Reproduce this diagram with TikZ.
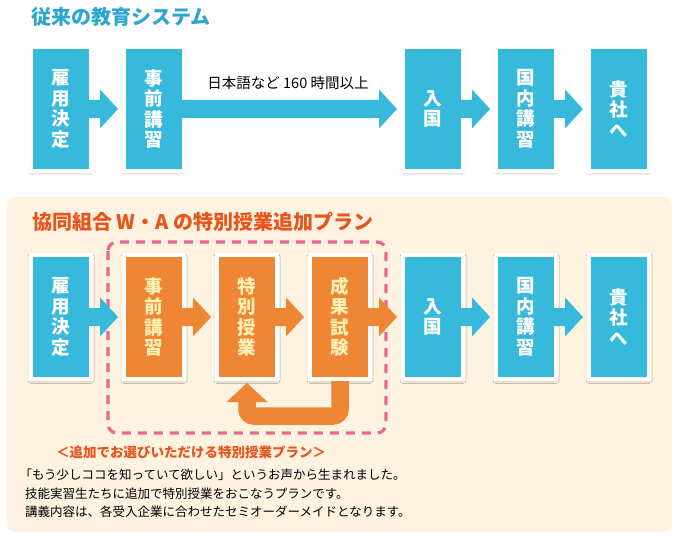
\documentclass[tikz,border=0pt]{standalone}
\usepackage{fontspec}
\setmainfont{Noto Sans CJK JP}
\usetikzlibrary{positioning, calc, shadows.blur}

\definecolor{boxblue}{HTML}{36B9DA}
\definecolor{titleblue}{HTML}{2CA6CF}
\definecolor{boxorange}{HTML}{EE8633}
\definecolor{boxtext}{HTML}{FFF0B5}
\definecolor{planred}{HTML}{E9541C}
\definecolor{planpink}{HTML}{E9678F}
\definecolor{panelcream}{HTML}{FEF3E1}

\tikzset{
  box/.style={draw=white, line width=4pt, outer sep=0pt, inner sep=0pt,
    minimum width=60pt, minimum height=124pt, align=center,
    font=\fontsize{18.5}{20.5}\selectfont\bfseries,
    blur shadow={shadow xshift=0pt, shadow yshift=-1.5pt,
      shadow blur radius=3pt, shadow opacity=35}},
  bluebox/.style={box, fill=boxblue, text=white},
  orangebox/.style={box, fill=boxorange, text=boxtext},
  title/.style={anchor=west, inner sep=0pt, font=\fontsize{20}{20}\selectfont\bfseries},
  planline/.style={draw=planpink, line width=3.2pt, dash pattern=on 9pt off 7pt,
    rounded corners=9pt},
}

% block arrow: from, to, colour
\newcommand{\flowarrow}[3]{%
  \fill[#3] ($(#1.east)+(-2,-9)$) -- ($(#2.west)+(-24,-9)$)
    -- ($(#2.west)+(-24,-19.5)$) -- ($(#2.west)+(-6,0)$)
    -- ($(#2.west)+(-24,19.5)$) -- ($(#2.west)+(-24,9)$)
    -- ($(#1.east)+(-2,9)$) -- cycle;
}

\begin{document}
\begin{tikzpicture}[x=1pt, y=-1pt, node distance=33pt]

\useasboundingbox (0,0) rectangle (680,540);

% background of the lower plan
\fill[panelcream, rounded corners=8pt] (7,197) rectangle (672,532);

% upper row
\node[title, text=titleblue] (title1) at (31,17) {従来の教育システム};

\node[bluebox] (t1) at (61,109) {雇\\用\\決\\定};
\node[bluebox, right=of t1] (t2) {事\\前\\講\\習};
\node[bluebox, right=219pt of t2] (t3) {入\\国};
\node[bluebox, right=of t3] (t4) {国\\内\\講\\習};
\node[bluebox, right=of t4] (t5) {貴\\社\\へ};

\flowarrow{t1}{t2}{boxblue}
\flowarrow{t2}{t3}{boxblue}
\flowarrow{t3}{t4}{boxblue}
\flowarrow{t4}{t5}{boxblue}

\node[font=\fontsize{14.5}{14.5}\selectfont] (hours) at (288,83) {日本語など 160 時間以上};

% lower row
\node[title, text=planred] (title2) at (32,222) {協同組合 W・A の特別授業追加プラン};

\draw[planline] (108,242) rectangle (386,433);

\node[bluebox] (b1) at (61,317) {雇\\用\\決\\定};
\node[orangebox, right=of b1] (b2) {事\\前\\講\\習};
\node[orangebox, right=of b2] (b3) {特\\別\\授\\業};
\node[orangebox, right=of b3] (b4) {成\\果\\試\\験};
\node[bluebox, right=of b4] (b5) {入\\国};
\node[bluebox, right=of b5] (b6) {国\\内\\講\\習};
\node[bluebox, right=of b6] (b7) {貴\\社\\へ};

\flowarrow{b1}{b2}{boxblue}
\flowarrow{b2}{b3}{boxorange}
\flowarrow{b3}{b4}{boxorange}
\flowarrow{b4}{b5}{boxorange}
\flowarrow{b5}{b6}{boxblue}
\flowarrow{b6}{b7}{boxblue}

% loop back from the test to the lessons
\draw[boxorange, line width=17.5pt, rounded corners=7pt]
  ($(b4.south)+(0,2)$) -- ($(b4.south)+(0,37)$) -| ($(b3.south)+(0,22)$);
\fill[boxorange] ($(b3.south)+(-20.5,23)$) -- ($(b3.south)+(0,4)$)
  -- ($(b3.south)+(20.5,23)$) -- cycle;

\node[font=\fontsize{13.5}{13.5}\selectfont\bfseries, text=planred] (subtitle) at (191,452)
  {＜追加でお選びいただける特別授業プラン＞};

\node[anchor=north west, inner sep=0pt, align=left,
  font=\fontsize{12.5}{18.5}\selectfont] (body) at (25,469) {%
  \hspace*{-0.45em}「もう少しココを知っていて欲しい」というお声から生まれました。\\
  技能実習生たちに追加で特別授業をおこなうプランです。\\
  講義内容は、各受入企業に合わせたセミオーダーメイドとなります。};

\end{tikzpicture}
\end{document}
